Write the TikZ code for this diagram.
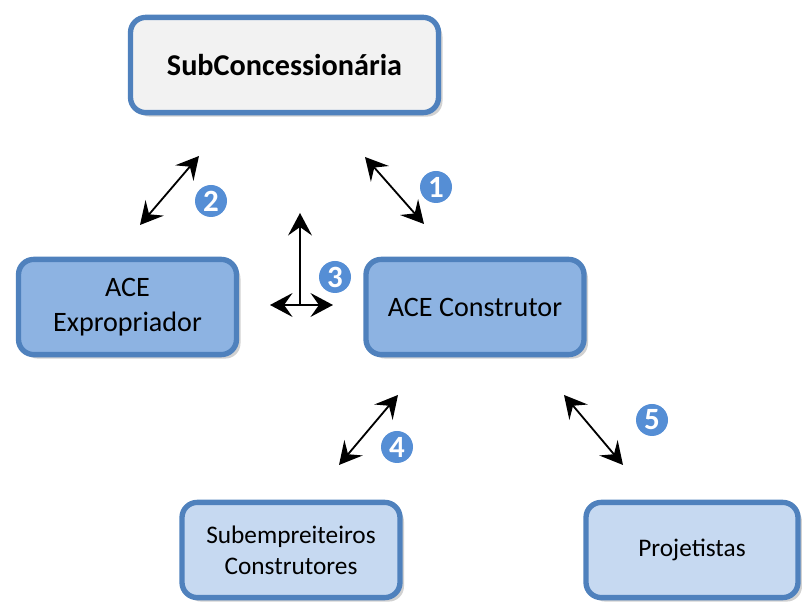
\documentclass[tikz,border=0pt]{standalone}
\usepackage{fontspec}
\setmainfont{Carlito}
\usetikzlibrary{arrows.meta,shadows}

\definecolor{boxline}{HTML}{4F81BD}
\definecolor{boxdark}{HTML}{8DB3E2}
\definecolor{boxlight}{HTML}{C6D9F1}
\definecolor{boxgray}{HTML}{F2F2F2}
\definecolor{badgeblue}{HTML}{558ED5}

\tikzset{
    party/.style={rectangle, rounded corners=0.38cm, draw=boxline, line width=3.8pt,
        align=center, minimum height=2.38cm,
        drop shadow={shadow xshift=0.1cm, shadow yshift=-0.1cm, fill=black, opacity=0.18}},
    badge/.style={circle, fill=badgeblue, text=white, inner sep=0pt, minimum size=0.8cm,
        font=\fontsize{22}{22}\selectfont\bfseries},
    link/.style={>={Stealth[length=16pt,width=17pt,inset=6pt]}, <->, line width=1.3pt},
}

\begin{document}
\begin{tikzpicture}
    \useasboundingbox (0, 0) rectangle (20.05, 15.075);

    % top box
    \node[party, fill=boxgray, minimum width=7.7cm, font=\fontsize{21.5}{24}\selectfont\bfseries] (sub) at (7.1125, 13.45) {SubConcessionária};

    % middle boxes
    \node[party, fill=boxdark, minimum width=5.45cm, font=\fontsize{20}{25}\selectfont] (exp) at (3.1875, 7.4) {ACE\\Expropriador};
    \node[party, fill=boxdark, minimum width=5.45cm, font=\fontsize{20}{25}\selectfont] (con) at (11.875, 7.4) {ACE Construtor};

    % bottom boxes
    \node[party, fill=boxlight, minimum width=5.45cm, font=\fontsize{18}{22}\selectfont] (subemp) at (7.275, 1.325) {Subempreiteiros\\Construtores};
    \node[party, fill=boxlight, minimum width=5.3cm, font=\fontsize{18}{22}\selectfont] (proj) at (17.3, 1.325) {Projetistas};

    % arrow ends
    \coordinate (r1a) at (9.125, 11.15);
    \coordinate (r1b) at (10.6, 9.475);
    \coordinate (r2a) at (3.5, 9.45);
    \coordinate (r2b) at (4.975, 11.175);
    \coordinate (r3o) at (7.5, 7.45);
    \coordinate (r3u) at (7.5, 9.75);
    \coordinate (r3l) at (6.75, 7.45);
    \coordinate (r3r) at (8.325, 7.45);
    \coordinate (r4a) at (8.475, 3.45);
    \coordinate (r4b) at (9.95, 5.2);
    \coordinate (r5a) at (14.1, 5.2);
    \coordinate (r5b) at (15.575, 3.45);

    % arrows
    \draw[link] (r1a) -- (r1b);
    \draw[link] (r2a) -- (r2b);
    \draw[link, ->] (r3o) -- (r3u);
    \draw[link] (r3l) -- (r3r);
    \draw[link] (r4a) -- (r4b);
    \draw[link] (r5a) -- (r5b);

    % numbers
    \node[badge] (n1) at (10.9, 10.4) {1};
    \node[badge] (n2) at (5.275, 10.05) {2};
    \node[badge] (n3) at (8.375, 8.15) {3};
    \node[badge] (n4) at (9.925, 3.9) {4};
    \node[badge] (n5) at (16.3, 4.575) {5};
\end{tikzpicture}
\end{document}
